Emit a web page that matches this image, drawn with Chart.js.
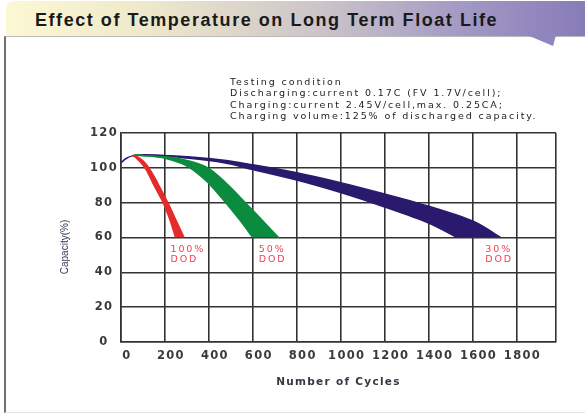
<!DOCTYPE html>
<html>
<head>
<meta charset="utf-8">
<title>Effect of Temperature on Long Term Float Life</title>
<script src="https://cdn.jsdelivr.net/npm/chart.js@4.4.1/dist/chart.umd.min.js"></script>
<style>
  html, body { margin: 0; padding: 0; background: #fff; }
  #page { position: relative; width: 585px; height: 414px; overflow: hidden; background: #fff; }
  #frame { position: absolute; left: 4px; top: 36px; width: 600px; height: 375px;
           border-left: 2px solid #707070; border-top: 1px solid #b8b8b8; border-bottom: 1px solid #e2e2e2; }
  #banner { position: absolute; left: 6px; top: 1px; width: 579px; height: 35px; z-index: 2;
            border-top-left-radius: 7px;
            background: linear-gradient(to right, #fcf8d4 0%, #eee8ca 25%, #cbc3c9 55%, #a49ac5 78%, #877cb8 100%); }
  #banner span { position: absolute; left: 29px; top: 10px; font: bold 18px/18px "Liberation Sans", Arial, sans-serif;
                 letter-spacing: 1.55px; color: #1a1a1a; white-space: nowrap; }
  #tail { position: absolute; left: 527px; top: 35px; width: 29px; height: 11px; z-index: 2;
          background: #8f86bf; clip-path: polygon(0 0, 100% 0, 90% 100%); }
  #wrap { position: absolute; left: 0; top: 0; width: 585px; height: 414px; z-index: 1; }
</style>
</head>
<body>
<div id="page">
  <div id="frame"></div>
  <div id="banner"><span>Effect of Temperature on Long Term Float Life</span></div>
  <div id="tail"></div>
  <div id="wrap"><canvas id="chart"></canvas></div>
</div>
<script>
// x = number of cycles, y = capacity (%)
// each band: upper (right) edge and lower (left) edge, from the peak down to 60%
const redUpper = [[52,107.2],[75,106.2],[100,104],[132,99],[172,90],[213,80],[250,70],[287,60]];
const redLower = [[52,107.2],[70,105.6],[90,103],[110,99.8],[150,90],[192,80],[222,70.5],[248,60]];

const greenUpper = [[60,107.3],[200,106.3],[290,104.5],[360,102],[395,100],[437,96],[472,92],[505,88],[536,84],[566,80],[642,70],[717,60]];
const greenLower = [[60,107.3],[150,106.5],[230,104.5],[285,102],[314,100],[357,96],[392,92],[422,88],[450,84],[477,80],[541,70],[600,60]];

// initial rise before the peak
const blueRise = [[0,103],[25,105.5],[55,107],[100,107.5]];
const blueUpper = [[100,107.5],[250,106.8],[400,105.3],[600,101.8],[800,97.2],[1000,91.5],[1200,85],[1400,78],[1600,69.5],[1727,60]];
const blueLower = [[100,107.5],[200,106.9],[300,105.6],[450,103.3],[600,99],[800,93],[1000,85.8],[1200,77.5],[1400,68.3],[1529,60]];

const cycleTicks = [0, 200, 400, 600, 800, 1000, 1200, 1400, 1600, 1800];
const capacityTicks = [0, 20, 40, 60, 80, 100, 120];

const dodLabels = ['100%', '50%', '30%'];
const dodLabelX = [225, 627, 1658];

const conditionLines = [
  'Testing condition',
  'Discharging:current 0.17C (FV 1.7V/cell);',
  'Charging:current 2.45V/cell,max. 0.25CA;',
  'Charging volume:125% of discharged capacity.'
];

function toPoints(arr) {
  return arr.map(p => ({x: p[0], y: p[1]}));
}

// edges are taken as functions of capacity (indexAxis y), so the fill
// between them closes along the 60% line
function band(label, upper, lower, color) {
  const common = {
    indexAxis: 'y',
    borderColor: color,
    backgroundColor: color,
    borderWidth: 1.5,
    pointRadius: 0,
    cubicInterpolationMode: 'monotone',
    tension: 0.4
  };
  return [
    Object.assign({label: label, data: toPoints(upper), fill: '+1'}, common),
    Object.assign({label: label + ' lower', data: toPoints(lower), fill: false}, common)
  ];
}

const extras = {
  id: 'extras',
  beforeDraw(chart) {
    chart.ctx.letterSpacing = '1.3px';
  },
  afterDraw(chart) {
    const {ctx, scales: {x, y}} = chart;
    ctx.save();
    ctx.letterSpacing = '1.9px';
    ctx.font = '9.5px "DejaVu Sans"';
    ctx.textAlign = 'left';
    ctx.textBaseline = 'alphabetic';
    ctx.fillStyle = '#222';
    conditionLines.forEach((t, i) => ctx.fillText(t, 230, 84.5 + i * 11.5));

    ctx.fillStyle = '#ee4254';
    const y60 = y.getPixelForValue(60);
    dodLabelX.forEach((v, i) => {
      const px = x.getPixelForValue(v);
      ctx.fillText(dodLabels[i], px, y60 + 14.5);
      ctx.fillText('DOD', px, y60 + 24.5);
    });

    ctx.letterSpacing = '0px';
    ctx.translate(65, 247);
    ctx.rotate(-Math.PI / 2);
    ctx.font = '10px "Liberation Sans"';
    ctx.textAlign = 'center';
    ctx.textBaseline = 'middle';
    ctx.fillStyle = '#323a52';
    ctx.fillText('Capacity(%)', 0, 0);
    ctx.restore();
  }
};

Chart.defaults.font.family = '"DejaVu Sans"';

new Chart(document.getElementById('chart'), {
  type: 'line',
  data: {
    datasets: [
      ...band('100% DOD', redUpper, redLower, '#e42a2a'),
      ...band('50% DOD', greenUpper, greenLower, '#0b8b3d'),
      ...band('30% DOD', blueUpper, blueLower, '#2a1a6e'),
      {
        label: 'start',
        data: toPoints(blueRise),
        borderColor: '#2a1a6e',
        borderWidth: 1.5,
        pointRadius: 0,
        fill: false,
        cubicInterpolationMode: 'monotone',
        tension: 0.4
      }
    ]
  },
  options: {
    responsive: true,
    maintainAspectRatio: false,
    animation: false,
    layout: { padding: { left: 0, top: 133, right: 29, bottom: 25 } },
    plugins: { legend: { display: false }, tooltip: { enabled: false } },
    scales: {
      x: {
        type: 'linear',
        min: 0,
        max: 1980,
        afterBuildTicks: s => { s.ticks = cycleTicks.map(v => ({value: v})).concat({value: s.max}); },
        afterFit: s => { s.height = 47; },
        grid: { color: '#333', lineWidth: 1.6, drawTicks: false },
        border: { color: '#333', width: 1.6 },
        ticks: {
          padding: 7,
          labelOffset: 6,
          color: '#3a3a3a',
          font: { size: 11.5, weight: 'bold' },
          callback: v => cycleTicks.includes(v) ? v : ''
        },
        title: {
          display: true,
          text: 'Number of Cycles',
          color: '#333a44',
          font: { size: 10.5, weight: 'bold' },
          padding: { top: 0, bottom: 0 }
        }
      },
      y: {
        type: 'linear',
        min: 0,
        max: 120,
        afterBuildTicks: s => { s.ticks = capacityTicks.map(v => ({value: v})); },
        afterFit: s => { s.width = 121; },
        grid: { color: '#333', lineWidth: 1.6, drawTicks: false },
        border: { color: '#333', width: 1.6 },
        ticks: {
          padding: 5,
          crossAlign: 'center',
          color: '#3a3a3a',
          font: { size: 11.5, weight: 'bold' }
        }
      }
    }
  },
  plugins: [extras]
});
</script>
</body>
</html>
